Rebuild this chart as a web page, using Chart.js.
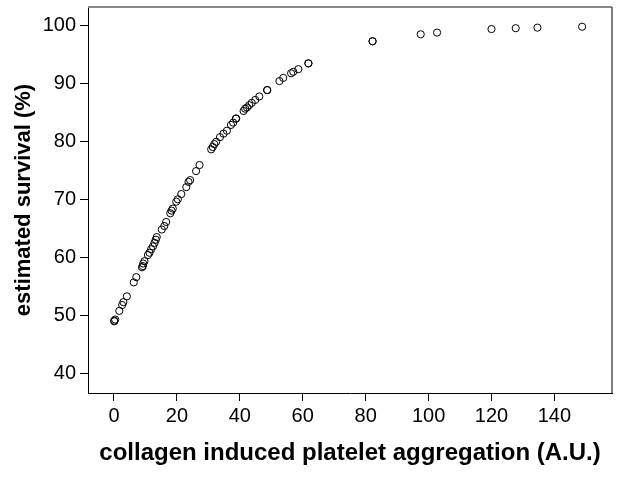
<!DOCTYPE html>
<html>
<head>
<meta charset="utf-8">
<script src="https://cdn.jsdelivr.net/npm/chart.js@4.4.1/dist/chart.umd.min.js"></script>
<style>
  html, body { margin: 0; padding: 0; background: #fff; }
  #wrap { width: 620px; height: 478px; }
</style>
</head>
<body>
<div id="wrap"><canvas id="c" width="620" height="478"></canvas></div>
<script>
// collagen induced platelet aggregation (A.U.)
const aggregation = [0.1, 0.1, 0.4, 1.7, 2.6, 3.0, 4.1, 6.3, 7.1, 8.9, 9.2, 9.3, 9.7, 10.8, 11.3, 11.8, 12.4, 12.9, 13.3, 13.6,
  15.2, 16.0, 16.6, 17.9, 18.3, 18.7, 19.8, 20.3, 21.4, 23.0, 23.7, 24.2, 26.1, 27.2,
  30.9, 31.4, 31.9, 32.5, 33.7, 34.8, 35.9, 37.2, 37.9, 38.8, 38.8, 41.2, 41.7, 42.3, 43.0, 43.8, 44.9, 46.2,
  48.7, 48.7, 52.6, 53.8, 56.3, 57.0, 58.6, 61.8, 61.8, 82.2, 82.2, 97.5, 102.7, 120.0, 127.7, 134.6, 148.8];
// estimated survival (%)
const survival = [49.0, 49.1, 49.3, 50.8, 51.8, 52.3, 53.3, 55.7, 56.6, 58.3, 58.5, 58.95, 59.35, 60.4, 60.8, 61.4, 61.9, 62.5, 63.05, 63.5,
  64.8, 65.4, 66.1, 67.6, 68.05, 68.4, 69.6, 70.0, 70.9, 72.1, 73.0, 73.3, 74.85, 75.9,
  78.6, 79.0, 79.5, 79.9, 80.7, 81.3, 81.8, 82.8, 83.2, 83.9, 83.9, 85.2, 85.6, 85.8, 86.2, 86.6, 87.1, 87.7,
  88.8, 88.8, 90.35, 90.9, 91.7, 91.95, 92.4, 93.4, 93.4, 97.2, 97.2, 98.4, 98.7, 99.3, 99.45, 99.55, 99.7];
const xTicks = [0, 20, 40, 60, 80, 100, 120, 140];
const yTicks = [40, 50, 60, 70, 80, 90, 100];
const xTitle = 'collagen induced platelet aggregation (A.U.)';
const yTitle = 'estimated survival (%)';

const points = aggregation.map((x, i) => ({ x: x, y: survival[i] }));
const FONT = "'Liberation Sans', Arial, sans-serif";

const framePlugin = {
  id: 'frame',
  afterDraw(chart) {
    const a = chart.chartArea, ctx = chart.ctx;
    ctx.save();
    ctx.strokeStyle = '#8a8a8a';
    ctx.lineWidth = 2;
    ctx.beginPath();
    ctx.moveTo(a.left, a.top);
    ctx.lineTo(a.right, a.top);
    ctx.stroke();
    ctx.strokeStyle = '#555555';
    ctx.lineWidth = 1.5;
    ctx.beginPath();
    ctx.moveTo(a.right, a.top);
    ctx.lineTo(a.right, a.bottom);
    ctx.stroke();
    ctx.restore();
  }
};

new Chart(document.getElementById('c'), {
  type: 'scatter',
  data: {
    datasets: [{
      data: points,
      pointRadius: 3.6,
      pointHoverRadius: 3.6,
      borderColor: '#000',
      borderWidth: 1,
      backgroundColor: 'rgba(0,0,0,0)'
    }]
  },
  options: {
    responsive: false,
    animation: false,
    events: [],
    layout: { padding: { top: 7, right: 8, left: 0, bottom: 0 } },
    plugins: { legend: { display: false }, tooltip: { enabled: false } },
    scales: {
      x: {
        type: 'linear',
        min: -8.25,
        max: 158.3,
        afterBuildTicks(s) { s.ticks = xTicks.map(v => ({ value: v })); },
        afterFit(s) { s.height = 85; s.paddingLeft = 0; s.paddingRight = 0; },
        grid: { display: true, drawOnChartArea: false, drawTicks: true, tickLength: 8, color: '#000', lineWidth: 1 },
        border: { display: true, color: '#000', width: 1 },
        ticks: { color: '#000', font: { family: FONT, size: 20 }, padding: 3, maxRotation: 0, autoSkip: false },
        title: { display: true, text: xTitle, color: '#000', font: { family: FONT, size: 24, weight: 'bold' }, padding: { top: 0, bottom: 10 } }
      },
      y: {
        type: 'linear',
        min: 36.66,
        max: 103.1,
        afterBuildTicks(s) { s.ticks = yTicks.map(v => ({ value: v })); },
        afterFit(s) { s.width = 88; s.paddingTop = 0; s.paddingBottom = 0; },
        grid: { display: true, drawOnChartArea: false, drawTicks: true, tickLength: 8, color: '#000', lineWidth: 1 },
        border: { display: true, color: '#000', width: 1 },
        ticks: { color: '#000', font: { family: FONT, size: 20 }, padding: 4, autoSkip: false },
        title: { display: true, text: yTitle, color: '#000', font: { family: FONT, size: 22, weight: 'bold' }, padding: { top: 11, bottom: 0 } }
      }
    }
  },
  plugins: [framePlugin]
});
</script>
</body>
</html>
